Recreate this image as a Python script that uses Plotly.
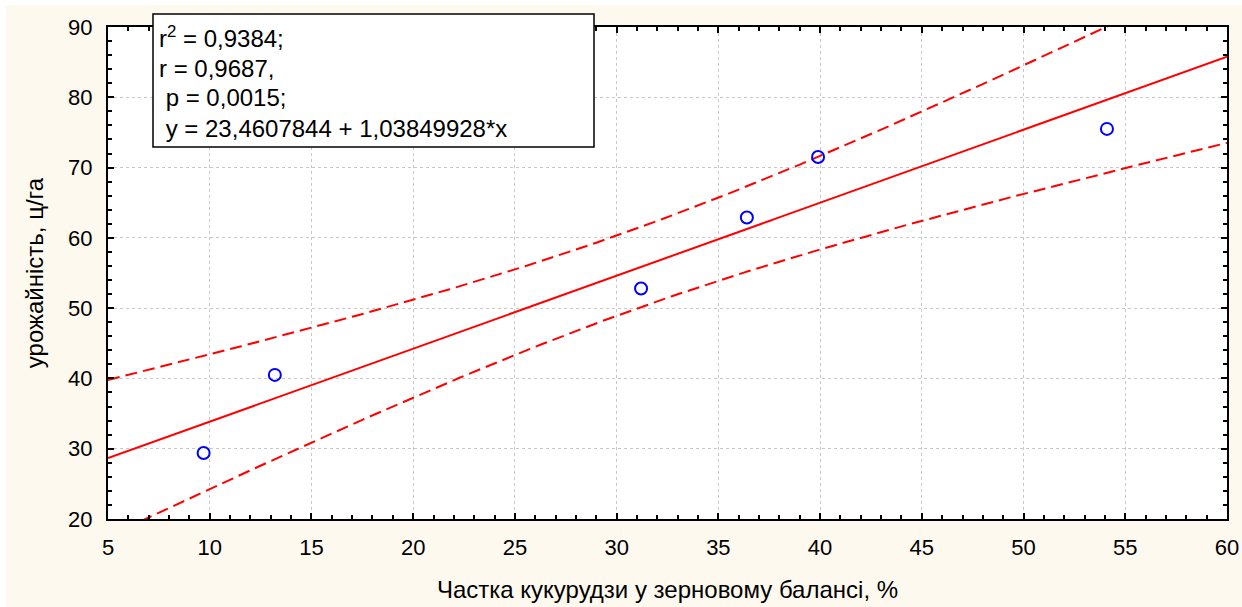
import numpy as np
import plotly.graph_objects as go

share_pct = [9.7, 13.2, 31.2, 36.4, 39.9, 54.1]
yield_cha = [29.4, 40.5, 52.8, 62.9, 71.5, 75.5]

# Regression stated on chart
intercept = 23.4607844
slope = 1.03849928
t_crit = 2.776  # t(0.975, df=4)

x_ticks = [5, 10, 15, 20, 25, 30, 35, 40, 45, 50, 55, 60]
y_ticks = [20, 30, 40, 50, 60, 70, 80, 90]

stat_lines = ["r<sup>2</sup> = 0,9384;", "r = 0,9687,", "&nbsp;p = 0,0015;", "&nbsp;y = 23,4607844 + 1,03849928*x"]
x_title = "Частка кукурудзи у зерновому балансі, %"
y_title = "урожайність, ц/га"

FONT = "Liberation Sans, Arial, sans-serif"

# fit and 95% confidence band of the mean
xd = np.array(share_pct)
yd = np.array(yield_cha)
n = len(xd)
xbar = xd.mean()
sxx = ((xd - xbar) ** 2).sum()
resid = yd - (intercept + slope * xd)
s = np.sqrt((resid ** 2).sum() / (n - 2))
xs = np.linspace(5, 60, 221)
yhat = intercept + slope * xs
half = t_crit * s * np.sqrt(1 / n + (xs - xbar) ** 2 / sxx)

fig = go.Figure()
red = "#ff0000"
fig.add_trace(go.Scatter(x=xs, y=yhat + half, mode="lines",
                         line=dict(color=red, width=2, dash="12px,6px"), hoverinfo="skip"))
fig.add_trace(go.Scatter(x=xs, y=yhat - half, mode="lines",
                         line=dict(color=red, width=2, dash="12px,6px"), hoverinfo="skip"))
fig.add_trace(go.Scatter(x=xs, y=yhat, mode="lines",
                         line=dict(color=red, width=2), hoverinfo="skip"))
fig.add_trace(go.Scatter(x=share_pct, y=yield_cha, mode="markers",
                         marker=dict(symbol="circle-open", size=12, color="#0000ff",
                                     line=dict(width=2, color="#0000ff"))))

axis_common = dict(
    showline=True, linecolor="black", linewidth=2, mirror="ticks",
    ticks="inside", ticklen=6, tickwidth=1.5, tickcolor="black",
    showgrid=True, gridcolor="#c8c8c8", griddash="dot", gridwidth=1,
    zeroline=False, automargin=False,
    tickfont=dict(family=FONT, size=22, color="black"),
)

fig.update_xaxes(range=[5, 60], tickvals=x_ticks, ticktext=[str(v) for v in x_ticks],
                 ticklabelstandoff=8,
                 minor=dict(dtick=1, ticks="inside", ticklen=4, tickcolor="black", showgrid=False),
                 title=dict(text=x_title, standoff=22, font=dict(family=FONT, size=24, color="black")),
                 **axis_common)
fig.update_yaxes(range=[20, 90], tickvals=y_ticks, ticktext=[str(v) for v in y_ticks],
                 ticklabelstandoff=9,
                 minor=dict(dtick=2, ticks="inside", ticklen=4, tickcolor="black", showgrid=False),
                 title=dict(text=y_title, standoff=18, font=dict(family=FONT, size=24, color="black")),
                 **axis_common)

# page-pixel helpers (plot area spans x 108..1227, y 27..519 on the page)
def px(xp):
    return (xp - 108) / 1119.0

def py(yp):
    return (519 - yp) / 492.0

# white outer strips (top and left edge of the page)
fig.add_shape(type="rect", xref="paper", yref="paper", x0=px(-5), x1=px(1250),
              y0=py(5), y1=py(-5), fillcolor="white", line=dict(width=0), layer="below")
fig.add_shape(type="rect", xref="paper", yref="paper", x0=px(-5), x1=px(6),
              y0=py(615), y1=py(-5), fillcolor="white", line=dict(width=0), layer="below")

fig.add_shape(type="rect", xref="paper", yref="paper",
              x0=px(153), x1=px(594), y0=py(147), y1=py(14),
              fillcolor="white", line=dict(color="black", width=1.5), layer="above")

for line, yc in zip(stat_lines, [37, 68, 98, 128]):
    fig.add_annotation(xref="paper", yref="paper", x=px(157), y=py(yc),
                       xanchor="left", yanchor="middle", text=line, showarrow=False,
                       align="left", font=dict(family=FONT, size=24, color="black"))

fig.update_layout(
    width=1242, height=607,
    margin=dict(l=108, r=15, t=27, b=88),
    paper_bgcolor="#fdf9ef", plot_bgcolor="white",
    showlegend=False,
)

fig.write_html("out.html", config={"displayModeBar": False},
               post_script="document.body.style.margin='0';document.body.style.overflow='hidden';")
